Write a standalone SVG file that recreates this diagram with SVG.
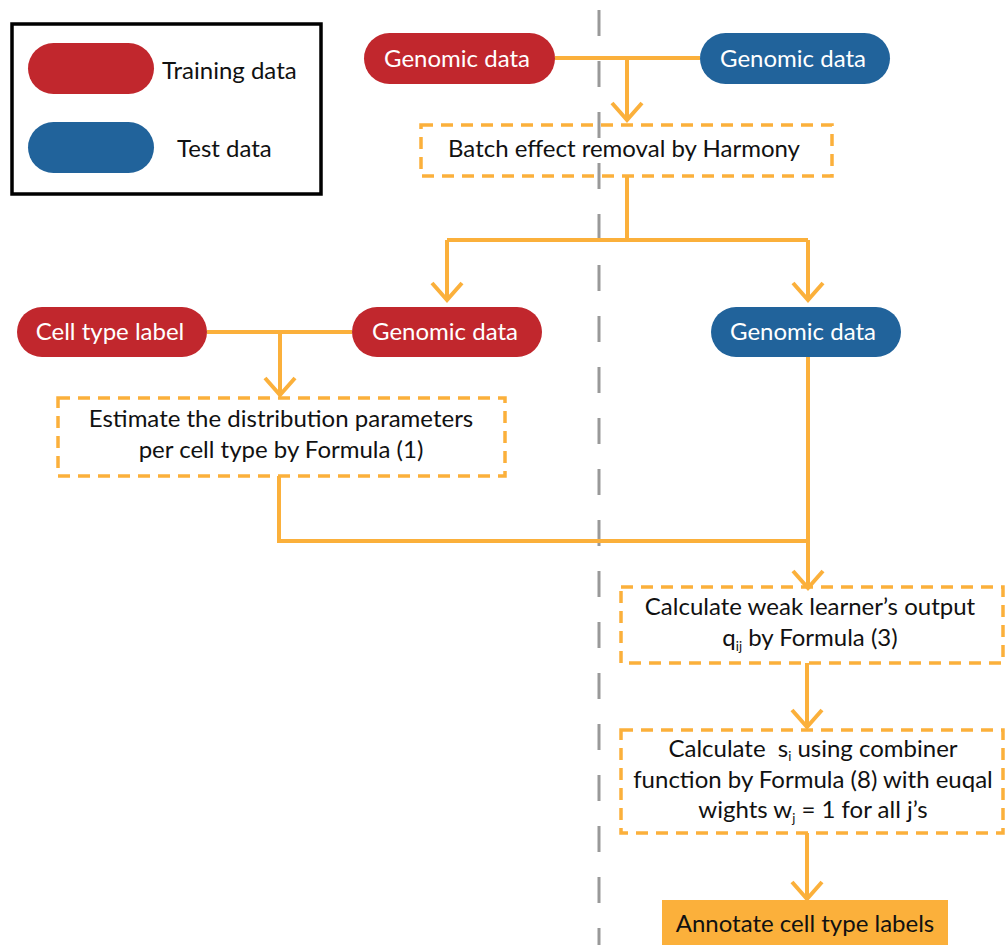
<svg xmlns="http://www.w3.org/2000/svg" width="1005" height="945" viewBox="0 0 1005 945">
<style>
.red{fill:#C1272D}
.blue{fill:#21639B}
.pt{fill:#fff;font-family:Lato,"Open Sans",sans-serif;font-size:24px;text-anchor:middle}
.bt{fill:#111;font-family:Lato,"Open Sans",sans-serif;font-size:24px;text-anchor:middle}
.lt{fill:#111;font-family:Lato,"Open Sans",sans-serif;font-size:24px}
.box{fill:none;stroke:#FBB03B;stroke-width:3.5;stroke-dasharray:12 8}
.c{fill:none;stroke:#FBB03B;stroke-width:4}
.sub{font-size:13px}
</style>
<rect width="1005" height="945" fill="#fff"/>
<line x1="599" y1="10" x2="599" y2="945" stroke="#999" stroke-width="3" stroke-dasharray="26 25"/>
<g id="legend">
<rect x="12" y="24" width="309" height="170" fill="none" stroke="#000" stroke-width="3.5"/>
<rect x="28" y="43" width="126" height="51" rx="25.5" class="red"/>
<text x="162" y="79" class="lt">Training data</text>
<rect x="28" y="122" width="126" height="51" rx="25.5" class="blue"/>
<text x="177" y="157" class="lt">Test data</text>
</g>
<g id="connectors">
<path class="c" d="M555 58H700M627 58V120"/>
<polyline class="c" points="612,103 627,120 642,103"/>
<path class="c" d="M627 176V240M447 240H808M447 240V300M808 240V300"/>
<polyline class="c" points="432,283 447,300 462,283"/>
<polyline class="c" points="793,283 808,300 823,283"/>
<path class="c" d="M207 332H352M280 332V395"/>
<polyline class="c" points="265,378 280,395 295,378"/>
<path class="c" d="M279 476V541H808M808 357V588"/>
<polyline class="c" points="793,571 808,588 823,571"/>
<path class="c" d="M807 663V727"/>
<polyline class="c" points="792,710 807,727 822,710"/>
<path class="c" d="M807 833V899"/>
<polyline class="c" points="792,882 807,899 822,882"/>
</g>
<g id="genomic-train-top">
<rect x="364" y="33" width="191" height="51" rx="25.5" class="red"/>
<text x="457" y="67" class="pt">Genomic data</text>
</g>
<g id="genomic-test-top">
<rect x="700" y="33" width="190" height="51" rx="25.5" class="blue"/>
<text x="793" y="67" class="pt">Genomic data</text>
</g>
<g id="batch">
<rect x="421" y="125" width="411" height="51" class="box"/>
<text x="624" y="157" class="bt">Batch effect removal by Harmony</text>
</g>
<g id="celltype">
<rect x="17" y="307" width="190" height="50" rx="25" class="red"/>
<text x="110" y="340" class="pt">Cell type label</text>
</g>
<g id="genomic-train">
<rect x="352" y="307" width="190" height="50" rx="25" class="red"/>
<text x="445" y="340" class="pt">Genomic data</text>
</g>
<g id="genomic-test">
<rect x="711" y="307" width="190" height="50" rx="25" class="blue"/>
<text x="803" y="340" class="pt">Genomic data</text>
</g>
<g id="estimate">
<rect x="58" y="398" width="447" height="78" class="box"/>
<text x="281" y="427" class="bt">Estimate the distribution parameters</text>
<text x="281" y="458" class="bt">per cell type by Formula (1)</text>
</g>
<g id="weak">
<rect x="621" y="587" width="382" height="76" class="box"/>
<text x="810" y="615" class="bt">Calculate weak learner’s output</text>
<text x="810" y="646" class="bt">q<tspan class="sub" dy="5">ij</tspan><tspan dy="-5"> by Formula (3)</tspan></text>
</g>
<g id="combiner">
<rect x="621" y="730" width="382" height="103" class="box"/>
<text x="813" y="757" class="bt">Calculate <tspan dx="6">s</tspan><tspan class="sub" dy="4">i</tspan><tspan dy="-4"> using combiner</tspan></text>
<text x="813" y="788" class="bt">function by Formula (8) with euqal</text>
<text x="813" y="818" class="bt">wights w<tspan class="sub" dy="5">j</tspan><tspan dy="-5"> = 1 for all j’s</tspan></text>
</g>
<g id="annotate">
<rect x="662" y="900" width="286" height="50" fill="#FBB03B"/>
<text x="805" y="932" class="bt">Annotate cell type labels</text>
</g>
</svg>
